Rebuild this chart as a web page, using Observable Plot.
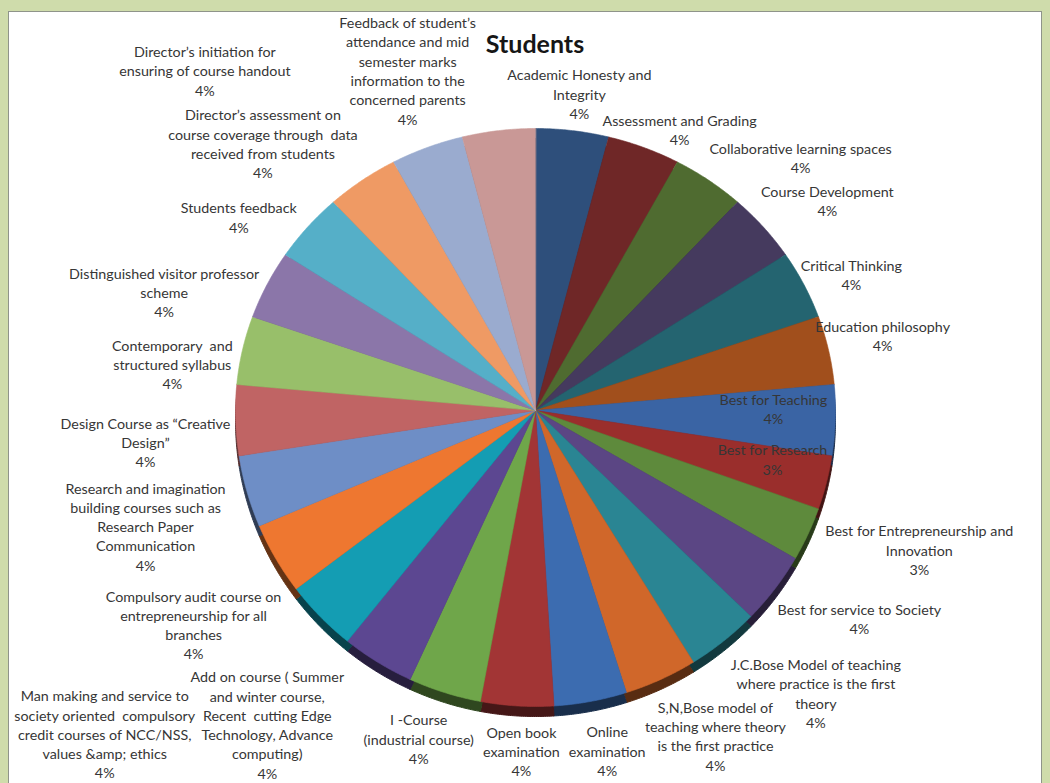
<!DOCTYPE html>
<html>
<head>
<meta charset="utf-8">
<script src="https://cdn.jsdelivr.net/npm/d3@7"></script>
<script src="https://cdn.jsdelivr.net/npm/@observablehq/plot@0.6"></script>
<style>
  html, body { margin: 0; padding: 0; }
  body { width: 1050px; height: 783px; overflow: hidden; background: #cfdcab; position: relative; font-family: Lato, "Open Sans", sans-serif; }
  #panel { position: absolute; left: 8px; top: 11px; width: 1034px; height: 780px; background: #ffffff; border: 1px solid #8f948a; box-sizing: border-box; }
  #chart { position: absolute; left: 0; top: 0; }
  #title { position: absolute; top: 31px; left: 0; width: 1070px; text-align: center; font: bold 25px Lato, sans-serif; color: #161616; line-height: 25px; }
</style>
</head>
<body>
<div id="panel"></div>
<div id="chart"></div>
<div id="title">Students</div>
<script>
// ---- data ----
const categories = [
  "Academic Honesty and\nIntegrity",
  "Assessment and Grading",
  "Collaborative learning spaces",
  "Course Development",
  "Critical Thinking",
  "Education philosophy",
  "Best for Teaching",
  "Best for Research",
  "Best for Entrepreneurship and\nInnovation",
  "Best for service to Society",
  "J.C.Bose Model of teaching\nwhere practice is the first\ntheory",
  "S,N,Bose model of\nteaching where theory\nis the first practice",
  "Online\nexamination",
  "Open book\nexamination",
  "I -Course\n(industrial course)",
  "Add on course ( Summer\nand winter course,\nRecent  cutting Edge\nTechnology, Advance\ncomputing)",
  "Man making and service to\nsociety oriented  compulsory\ncredit courses of NCC/NSS,\nvalues &amp; ethics",
  "Compulsory audit course on\nentrepreneurship for all\nbranches",
  "Research and imagination\nbuilding courses such as\nResearch Paper\nCommunication",
  "Design Course as \u201cCreative\nDesign\u201d",
  "Contemporary  and\nstructured syllabus",
  "Distinguished visitor professor\nscheme",
  "Students feedback",
  "Director\u2019s assessment on\ncourse coverage through  data\nreceived from students",
  "Director\u2019s initiation for\nensuring of course handout",
  "Feedback of student\u2019s\nattendance and mid\nsemester marks\ninformation to the\nconcerned parents"
];
const values = [4, 4, 4, 4, 4, 4, 4, 3, 3, 4, 4, 4, 4, 4, 4, 4, 4, 4, 4, 4, 4, 4, 4, 4, 4, 4];
const colors = [
  "#2e4f7b", "#6f2727", "#4f6b30", "#453a5e", "#246470", "#a14f1c",
  "#3a64a4", "#9a2e2c", "#5e8a3c", "#5b4684", "#2a8593", "#d0672a",
  "#3c6cb0", "#a23535", "#6fa64a", "#5c4791", "#149db3", "#ee7730",
  "#6e8ec6", "#c06464", "#98bf6a", "#8b76a9", "#55afc8", "#ef9a64",
  "#9aabcf", "#c99896"
];
// label layout: angular offset from slice middle (degrees) and radius (in pie radii)
const labelAngleOffset = [0.4, 4.7, 9.5, 3.4, 2.2, -0.3, -1.8, -2.0, -4.3, -3.8, -5.4, -3.8, -1.1,
  -1.2, 1.6, 8.2, 6.7, -2.6, -1.1, -3.2, -4.9, -8.0, -6.1, -8.7, -21.4, -12.5];
const labelRadius = [1.127, 1.10, 1.254, 1.221, 1.155, 1.186, 0.793, 0.808, 1.365, 1.291, 1.34, 1.257, 1.18,
  1.157, 1.181, 1.392, 1.808, 1.353, 1.359, 1.305, 1.221, 1.305, 1.2, 1.308, 1.629, 1.273];

// ---- derived ----
const total = d3.sum(values);
const arcs = d3.pie().sort(null).value(d => d)(values);
const slicePts = [];
arcs.forEach((a, i) => {
  slicePts.push({x: 0, y: 0, i, c: colors[i]});
  const n = 40;
  for (let k = 0; k <= n; k++) {
    const t = a.startAngle + (a.endAngle - a.startAngle) * k / n;
    slicePts.push({x: Math.sin(t), y: Math.cos(t), i, c: colors[i]});
  }
});
const sidePts = slicePts.map(p => ({...p, c: d3.color(p.c).darker(2.4).formatHex()}));
const labels = arcs.map((a, i) => {
  const t = (a.startAngle + a.endAngle) / 2 + labelAngleOffset[i] * Math.PI / 180;
  const r = labelRadius[i];
  return {x: r * Math.sin(t), y: r * Math.cos(t),
    text: categories[i] + "\n" + Math.round(values[i] / total * 100) + "%"};
});

const chart = Plot.plot({
  width: 1050,
  height: 783,
  margin: 0,
  style: {background: "transparent", overflow: "visible"},
  x: {type: "linear", domain: [-1, 1], range: [235, 835], axis: null},
  y: {type: "linear", domain: [-1, 0, 1], range: [706, 410, 128], axis: null},
  color: {type: "identity"},
  marks: [
    Plot.line(sidePts, {x: "x", y: "y", z: "i", fill: "c", stroke: "c", strokeWidth: 1, curve: "linear-closed", dy: 10}),
    Plot.line(slicePts, {x: "x", y: "y", z: "i", fill: "c", stroke: "c", strokeWidth: 0.6, curve: "linear-closed"}),
    Plot.text(labels, {x: "x", y: "y", text: "text", fontSize: 14.3, lineHeight: 1.35, fill: "#363636",
      textAnchor: "middle", lineAnchor: "middle", fontFamily: "Lato", dy: -2})
  ]
});
document.getElementById("chart").appendChild(chart);
</script>
</body>
</html>
